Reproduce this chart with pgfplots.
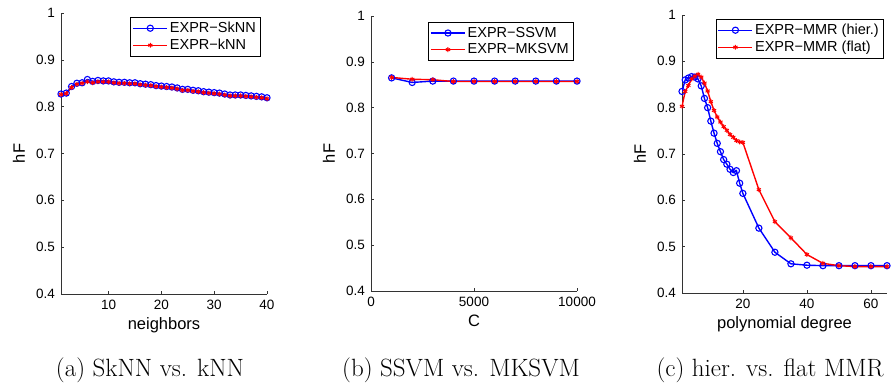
\documentclass[border=0pt]{standalone}
\usepackage{fontspec}
\usepackage{pgfplots}
\pgfplotsset{compat=1.18}
\newfontfamily\arial{Liberation Sans}
\definecolor{mblue}{RGB}{0,0,255}
\definecolor{mred}{RGB}{255,0,0}
\pgfplotsset{
  mstyle/.style={
    scale only axis,
    anchor=south west,
    enlargelimits=false,
    axis x line*=bottom,
    axis y line*=left,
    axis line style={-, black!80, line width=0.5pt},
    tick align=inside,
    major tick length=3pt,
    tick style={black!80, line width=0.5pt},
    ymin=0.4, ymax=1,
    ytick={0.4,0.5,0.6,0.7,0.8,0.9,1},
    /pgf/number format/assume math mode=true,
    tick label style={font=\arial\fontsize{13.5}{15}\selectfont},
    yticklabel style={xshift=-2.5pt},
    xticklabel style={yshift=-3pt},
    every axis y label/.style={at={(axis description cs:0,0.5)}, xshift=-42pt, rotate=90, anchor=center, font=\arial\fontsize{16.5}{18}\selectfont},
    every axis x label/.style={at={(axis description cs:0.5,0)}, anchor=north, yshift=-20pt, font=\arial\fontsize{16.5}{18}\selectfont},
    ylabel={hF},
    legend style={font=\arial\fontsize{14.5}{16}\selectfont, draw=black, fill=white, inner xsep=2pt, inner ysep=3pt, row sep=1pt, cells={anchor=west}},
    legend image code/.code={\draw[mark repeat=2,mark phase=2,##1, line width=1.4pt] plot coordinates {(0pt,0pt) (17pt,0pt) (34pt,0pt)};},
  },
  sblue/.style={color=mblue, line width=1.4pt, mark=o, mark size=3.1pt, mark options={line width=1.1pt}},
  sred/.style={color=mred, line width=1.4pt, mark=asterisk, mark size=2.4pt, mark options={line width=1pt}},
}
\begin{document}
\begin{tikzpicture}
\useasboundingbox (0,0) rectangle (893pt,383pt);
% (a)
\begin{axis}[mstyle, at={(61pt,89pt)}, width=206pt, height=281pt,
  xmin=1, xmax=40, xtick={10,20,30,40}, xlabel={neighbors},
  legend style={at={(axis description cs:1,1)}, anchor=north east, xshift=-7pt, yshift=-4pt}]
\addplot[sblue] coordinates {
(1,0.827)(2,0.829)(3,0.843)(4,0.850)(5,0.851)(6,0.858)(7,0.854)(8,0.856)(9,0.855)(10,0.855)
(11,0.853)(12,0.852)(13,0.852)(14,0.851)(15,0.851)(16,0.849)(17,0.848)(18,0.847)(19,0.845)(20,0.844)
(21,0.843)(22,0.842)(23,0.840)(24,0.837)(25,0.837)(26,0.835)(27,0.834)(28,0.832)(29,0.831)(30,0.830)
(31,0.829)(32,0.827)(33,0.825)(34,0.825)(35,0.825)(36,0.824)(37,0.823)(38,0.822)(39,0.821)(40,0.819)};
\addlegendentry{EXPR−SkNN}
\addplot[sred] coordinates {
(1,0.826)(2,0.828)(3,0.841)(4,0.848)(5,0.850)(6,0.853)(7,0.851)(8,0.853)(9,0.853)(10,0.853)
(11,0.851)(12,0.850)(13,0.850)(14,0.849)(15,0.849)(16,0.847)(17,0.846)(18,0.845)(19,0.843)(20,0.842)
(21,0.841)(22,0.840)(23,0.838)(24,0.835)(25,0.835)(26,0.833)(27,0.832)(28,0.830)(29,0.829)(30,0.828)
(31,0.827)(32,0.825)(33,0.823)(34,0.823)(35,0.823)(36,0.822)(37,0.821)(38,0.820)(39,0.819)(40,0.817)};
\addlegendentry{EXPR−kNN}
\end{axis}
% (b)
\begin{axis}[mstyle, at={(371pt,92pt)}, width=206pt, height=275pt,
  xmin=0, xmax=10000, xtick={0,5000,10000}, xlabel={C},
  scaled x ticks=false, xticklabel style={/pgf/number format/fixed, /pgf/number format/1000 sep={}},
  legend style={at={(axis description cs:1,1)}, anchor=north east, xshift=-4pt, yshift=-6pt}]
\addplot[sblue] coordinates {
(1000,0.865)(2000,0.855)(3000,0.858)(4000,0.858)(5000,0.858)(6000,0.858)(7000,0.858)(8000,0.858)(9000,0.858)(10000,0.858)};
\addlegendentry{EXPR−SSVM}
\addplot[sred] coordinates {
(1000,0.866)(2000,0.862)(3000,0.861)(4000,0.857)(5000,0.857)(6000,0.857)(7000,0.857)(8000,0.857)(9000,0.857)(10000,0.857)};
\addlegendentry{EXPR−MKSVM}
\end{axis}
% (c)
\begin{axis}[mstyle, at={(682pt,90pt)}, width=205pt, height=278pt,
  xmin=1, xmax=65, xtick={20,40,60}, xlabel={polynomial degree},
  legend style={at={(axis description cs:1,1)}, anchor=north east, xshift=-4pt, yshift=-4pt}]
\addplot[sblue] coordinates {
(1,0.835)(2,0.860)(3,0.864)(4,0.867)(5,0.866)(6,0.862)(7,0.847)(8,0.820)(9,0.800)(10,0.771)
(11,0.745)(12,0.723)(13,0.705)(14,0.688)(15,0.678)(16,0.667)(17,0.660)(18,0.664)(19,0.637)(20,0.615)
(25,0.540)(30,0.488)(35,0.463)(40,0.460)(45,0.459)(50,0.459)(55,0.459)(60,0.459)(65,0.459)};
\addlegendentry{EXPR−MMR (hier.)}
\addplot[sred] coordinates {
(1,0.803)(2,0.835)(3,0.848)(4,0.862)(5,0.868)(6,0.872)(7,0.866)(8,0.853)(9,0.836)(10,0.813)
(11,0.794)(12,0.780)(13,0.769)(14,0.759)(15,0.751)(16,0.742)(17,0.736)(18,0.729)(19,0.726)(20,0.725)
(25,0.623)(30,0.554)(35,0.519)(40,0.483)(45,0.464)(50,0.459)(55,0.457)(60,0.457)(65,0.457)};
\addlegendentry{EXPR−MMR (flat)}
\end{axis}
% captions
\node[anchor=base, font=\fontsize{25}{28}\selectfont] at (150pt,7pt) {(a) SkNN vs. kNN};
\node[anchor=base, font=\fontsize{25}{28}\selectfont] at (461pt,7pt) {(b) SSVM vs. MKSVM};
\node[anchor=base, font=\fontsize{25}{28}\selectfont] at (770pt,7pt) {(c) hier. vs. flat MMR};
\end{tikzpicture}
\end{document}
